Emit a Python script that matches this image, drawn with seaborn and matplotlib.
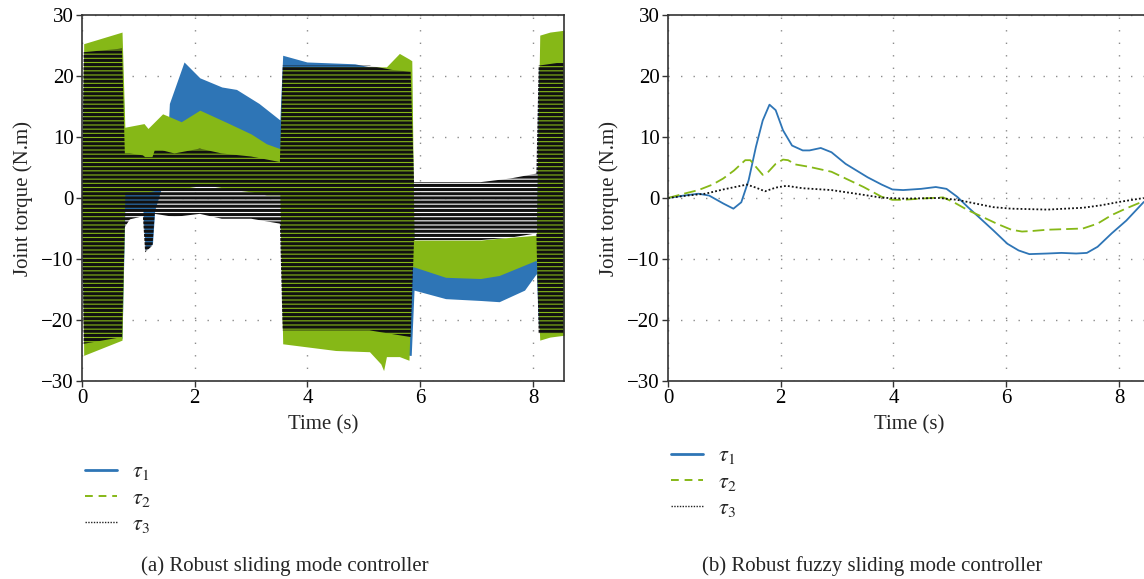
import numpy as np
import matplotlib.pyplot as plt
from matplotlib.lines import Line2D
import seaborn as sns

# ---- (a) robust sliding mode controller: chattering envelopes (upper / lower) ----
tau1_t  = [0.00, 0.03, 0.71, 0.76, 1.08, 1.12, 1.25, 1.29, 1.52, 1.55, 1.81, 2.09, 2.48, 2.74, 3.14, 3.51,
           3.56, 3.99, 4.84, 5.10, 5.60, 5.80, 5.84, 5.89, 6.45, 7.07, 7.40, 7.85, 8.06, 8.10, 8.55]
tau1_hi = [0.0, 23.0, 23.5, 10.0, 10.0, 10.0, 10.0, 10.0, 10.0, 15.5, 22.3, 19.7, 18.2, 17.8, 15.5, 12.8,
           23.4, 22.3, 22.0, 21.5, 21.0, 21.0, 20.5, -8.0, -8.0, -8.0, -8.0, -8.0, -8.0, 21.0, 21.5]
tau1_lo = [0.0, -23.0, -23.0, -2.0, -2.0, -8.5, -7.5, -2.0, 5.0, 6.0, 6.0, 6.0, 6.0, 6.0, 6.0, 6.0,
           -22.0, -22.0, -22.0, -22.0, -23.0, -25.8, -25.8, -15.1, -16.5, -16.8, -17.0, -15.1, -12.4, -21.0, -21.0]

tau2_t  = [0.00, 0.03, 0.71, 0.76, 1.10, 1.17, 1.43, 1.56, 1.76, 2.09, 2.28, 2.61, 3.00, 3.27, 3.51, 3.56,
           4.50, 5.10, 5.30, 5.35, 5.40, 5.63, 5.80, 5.85, 5.89, 6.45, 7.07, 7.40, 8.06, 8.12, 8.30, 8.55]
tau2_hi = [0.0, 25.3, 27.2, 11.6, 12.2, 11.4, 13.8, 13.3, 12.5, 14.4, 13.6, 12.2, 10.5, 8.9, 8.1, 21.5,
           21.5, 21.5, 21.5, 21.5, 21.5, 23.7, 22.8, 22.5, -6.9, -6.9, -6.9, -6.6, -6.1, 26.7, 27.2, 27.5]
tau2_lo = [0.0, -25.8, -23.3, 1.0, 1.0, 1.0, 1.5, 1.5, 1.5, 2.0, 2.0, 1.5, 1.0, 0.5, 0.5, -23.9,
           -25.0, -25.2, -27.2, -28.3, -26.0, -26.0, -26.6, -11.3, -11.3, -13.0, -13.2, -12.7, -10.2, -23.3, -22.8, -22.5]

tau3_t  = [0.00, 0.03, 0.71, 0.76, 0.85, 1.08, 1.12, 1.25, 1.29, 1.43, 1.64, 2.09, 2.48, 3.00, 3.51, 3.56,
           4.50, 5.10, 5.50, 5.83, 5.89, 6.45, 7.07, 7.60, 8.06, 8.10, 8.55]
tau3_hi = [0.0, 23.9, 24.5, 7.3, 7.3, 7.0, 6.7, 6.7, 7.8, 7.8, 7.3, 8.1, 7.3, 6.8, 5.9, 21.7,
           21.7, 21.7, 21.0, 20.7, 2.6, 2.6, 2.6, 3.2, 4.0, 21.7, 22.3]
tau3_lo = [0.0, -23.9, -22.8, -4.75, -3.5, -3.0, -8.9, -7.8, -2.6, -2.8, -3.1, -2.6, -3.4, -3.4, -4.2, -21.7,
           -21.7, -21.7, -22.3, -22.8, -6.9, -6.9, -6.9, -6.5, -5.8, -22.2, -22.2]

# ---- (b) robust fuzzy sliding mode controller ----
fz1_t = [0, 0.28, 0.54, 0.73, 0.98, 1.16, 1.30, 1.43, 1.56, 1.68, 1.80, 1.91, 2.04, 2.20, 2.39, 2.51, 2.71,
         2.90, 3.15, 3.54, 3.79, 3.98, 4.17, 4.49, 4.75, 4.94, 5.13, 5.32, 5.51, 5.77, 6.02, 6.22, 6.41,
         6.73, 6.98, 7.24, 7.43, 7.62, 7.87, 8.13, 8.44]
fz1 = [0, 0.4, 0.7, 0.4, -0.9, -1.75, -0.7, 2.9, 8.4, 12.7, 15.3, 14.4, 11.1, 8.6, 7.8, 7.8, 8.2,
       7.5, 5.6, 3.4, 2.2, 1.4, 1.3, 1.5, 1.8, 1.5, 0.2, -1.5, -3.1, -5.3, -7.5, -8.6, -9.2,
       -9.1, -9.0, -9.1, -9.0, -8.0, -5.8, -3.7, -0.65]

fz2_t = [0, 0.28, 0.54, 0.79, 0.98, 1.17, 1.37, 1.46, 1.56, 1.68, 1.78, 1.91, 2.04, 2.13, 2.26, 2.51, 2.90,
         3.15, 3.47, 3.79, 3.98, 4.17, 4.49, 4.88, 5.07, 5.32, 5.58, 5.83, 6.09, 6.28, 6.47, 6.73, 7.05,
         7.36, 7.62, 7.87, 8.13, 8.44]
fz2 = [0, 0.7, 1.3, 2.2, 3.2, 4.5, 6.2, 6.2, 5.1, 3.8, 4.3, 5.6, 6.3, 6.2, 5.5, 5.1, 4.3,
       3.2, 1.8, 0.2, -0.3, -0.3, -0.1, 0.1, -0.7, -2.0, -3.1, -4.2, -5.2, -5.5, -5.4, -5.2, -5.1,
       -5.0, -4.2, -2.8, -1.7, -0.5]

fz3_t = [0, 0.34, 0.66, 0.98, 1.24, 1.40, 1.56, 1.72, 1.91, 2.10, 2.39, 2.90, 3.41, 3.79, 4.17, 4.81,
         5.13, 5.45, 5.77, 6.09, 6.73, 7.36, 7.68, 8.00, 8.44]
fz3 = [0, 0.4, 0.7, 1.4, 1.9, 2.2, 1.7, 1.1, 1.7, 2.0, 1.6, 1.3, 0.6, 0.05, -0.1, 0,
       -0.3, -0.9, -1.5, -1.75, -1.9, -1.6, -1.2, -0.65, 0]

labels = [r"$\tau_1$", r"$\tau_2$", r"$\tau_3$"]
captions = ["(a) Robust sliding mode controller", "(b) Robust fuzzy sliding mode controller"]

BLUE = "#2e75b6"
GREEN = "#86b817"
BLACK = "#111111"

sns.set_theme(style="white")
plt.rcParams['font.family'] = ['Liberation Serif', 'DejaVu Serif']
plt.rcParams['mathtext.fontset'] = 'stix'
plt.rcParams['hatch.linewidth'] = 2.2
FS = 15

fig = plt.figure(figsize=(11.44, 5.79), dpi=100)
W, H = 1144, 579


def add_axes(x0, x1, y0, y1):
    return fig.add_axes([x0 / W, 1 - y1 / H, (x1 - x0) / W, (y1 - y0) / H])


def style_axes(ax):
    ax.set_xlim(0, 8.55)
    ax.set_ylim(-30, 30)
    ax.set_xticks([0, 2, 4, 6, 8])
    ax.set_yticks([-30, -20, -10, 0, 10, 20, 30])
    ax.set_axisbelow(True)
    ax.grid(True, color="#8c8c8c", linestyle=(0, (1, 8)), linewidth=1.0)
    for s in ax.spines.values():
        s.set_color("#333333")
        s.set_linewidth(1.2)
    ax.tick_params(direction="out", length=4, width=1, colors="#333333", pad=2,
                   labelsize=FS, labelcolor="black", left=True, bottom=True)
    ax.set_xlabel("Time (s)", fontsize=FS, labelpad=5)
    ax.set_ylabel("Joint torque (N.m)", fontsize=FS, labelpad=6)


ax1 = add_axes(82, 564, 15, 381)
ax2 = add_axes(668, 1150, 15, 381)

# (a) chattering bands
ax1.fill_between(tau1_t, tau1_lo, tau1_hi, color=BLUE, linewidth=0)
ax1.fill_between(tau2_t, tau2_lo, tau2_hi, color=GREEN, linewidth=0)
ax1.fill_between(tau3_t, tau3_lo, tau3_hi, facecolor="none", edgecolor=BLACK,
                 hatch="----", linewidth=0)
style_axes(ax1)

# (b) smooth responses
sns.lineplot(x=fz1_t, y=fz1, ax=ax2, color=BLUE, linewidth=1.3)
sns.lineplot(x=fz2_t, y=fz2, ax=ax2, color=GREEN, linewidth=1.3, linestyle=(0, (6.5, 2.8)))
sns.lineplot(x=fz3_t, y=fz3, ax=ax2, color=BLACK, linewidth=1.3, linestyle=(0, (1, 1.2)))
style_axes(ax2)

handles = [
    Line2D([], [], color=BLUE, linewidth=2.0),
    Line2D([], [], color=GREEN, linewidth=1.4, linestyle=(0, (4, 3))),
    Line2D([], [], color="#222222", linewidth=1.0, linestyle=(0, (1, 1))),
]
for x0, y0 in [(76, 453), (662, 437)]:
    fig.legend(handles, labels, loc="upper left", bbox_to_anchor=(x0 / W, 1 - y0 / H),
               frameon=False, fontsize=FS + 1, handlelength=1.45, handletextpad=0.65,
               labelspacing=0.25, borderaxespad=0)

fig.text(285 / W, 1 - 566 / H, captions[0], ha="center", va="center", fontsize=FS)
fig.text(872 / W, 1 - 566 / H, captions[1], ha="center", va="center", fontsize=FS)

fig.savefig("out.png", dpi=100)
